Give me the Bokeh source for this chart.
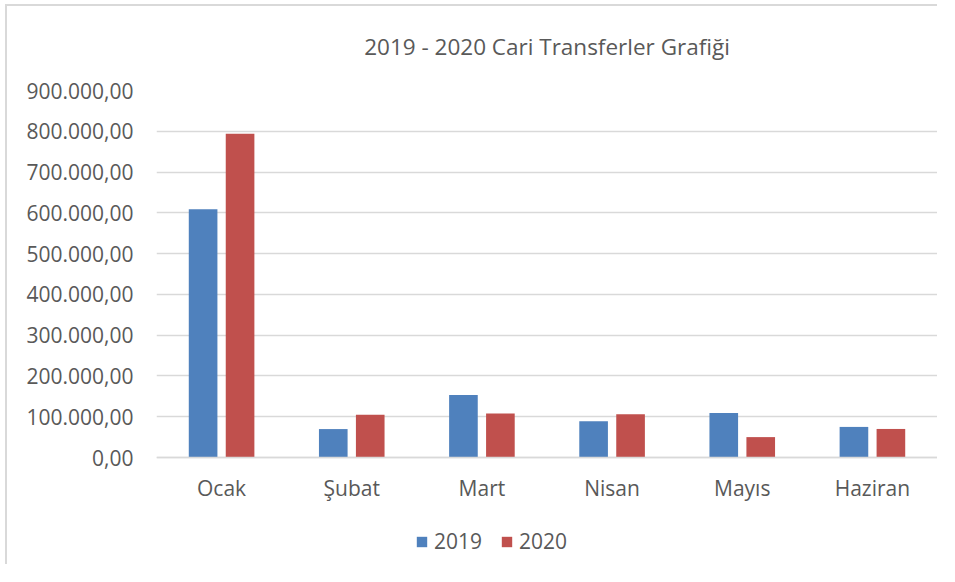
from bokeh.plotting import figure
from bokeh.models import (ColumnDataSource, FactorRange, Range1d, Legend, LegendItem,
                          FixedTicker)
from bokeh.transform import dodge
from bokeh.embed import file_html
from bokeh.resources import INLINE

months = ["Ocak", "Şubat", "Mart", "Nisan", "Mayıs", "Haziran"]
values_2019 = [609000, 69700, 153000, 88700, 109000, 75000]
values_2020 = [794000, 105000, 108000, 106000, 50000, 70000]
series_names = ["2019", "2020"]
tick_values = [0, 100000, 200000, 300000, 400000, 500000, 600000, 700000, 800000, 900000]
tick_labels = ["0,00", "100.000,00", "200.000,00", "300.000,00", "400.000,00",
               "500.000,00", "600.000,00", "700.000,00", "800.000,00", "900.000,00"]

FONT = "Open Sans"
TXT = "#595959"
GRID = "#d9d9d9"

W, H = 937, 564
TOP, LEFT, RIGHT = 90, 156, 0
PLOT_PX = 367              # pixel height of the 0..900k value area
FRAME_PX = H - TOP         # frame runs to the bottom so labels/legend sit inside it
y_max = 900000
y_min = -y_max * (FRAME_PX - PLOT_PX) / PLOT_PX

src = ColumnDataSource(dict(month=months, v2019=values_2019, v2020=values_2020))

p = figure(width=W, height=H, x_range=FactorRange(*months),
           y_range=Range1d(y_min, y_max),
           output_backend="svg", toolbar_location=None,
           min_border_left=LEFT, min_border_right=RIGHT, min_border_top=TOP, min_border_bottom=0)

# chart-area border (left and top edges visible in the reference)
p.border_fill_color = None
p.styles = {
    "background-image": "linear-gradient(#d9d9d9, #d9d9d9), linear-gradient(#d9d9d9, #d9d9d9)",
    "background-size": "2px 100%, 100% 2px",
    "background-position": "5px 4px, 5px 4px",
    "background-repeat": "no-repeat",
}

r1 = p.vbar(x=dodge("month", -0.142, range=p.x_range), top="v2019", width=0.22,
            source=src, fill_color="#4f81bd", line_color=None)
r2 = p.vbar(x=dodge("month", 0.142, range=p.x_range), top="v2020", width=0.22,
            source=src, fill_color="#c0504d", line_color=None)

p.title.text = "2019 - 2020 Cari Transferler Grafiği"
p.title.align = "center"
p.title.vertical_align = "top"
p.title.text_font = FONT
p.title.text_font_size = "22.5px"
p.title.text_font_style = "normal"
p.title.text_color = TXT
p.title.standoff = 54

p.outline_line_color = None
p.background_fill_color = "white"

p.xgrid.grid_line_color = None
p.ygrid.grid_line_color = GRID
p.ygrid.grid_line_width = 1.5

p.yaxis.ticker = FixedTicker(ticks=tick_values)
p.yaxis.major_label_overrides = {v: l for v, l in zip(tick_values, tick_labels)}
p.yaxis.axis_line_color = None
p.yaxis.major_tick_line_color = None
p.yaxis.minor_tick_line_color = None
p.yaxis.major_label_standoff = 17
p.yaxis.major_label_text_font = FONT
p.yaxis.major_label_text_font_size = "21px"
p.yaxis.major_label_text_color = TXT

p.xaxis.fixed_location = 0
p.xaxis.axis_line_color = GRID
p.xaxis.axis_line_width = 1.5
p.xaxis.major_tick_line_color = None
p.xaxis.minor_tick_line_color = None
p.xaxis.major_label_standoff = 10
p.xaxis.major_label_text_font = FONT
p.xaxis.major_label_text_font_size = "21px"
p.xaxis.major_label_text_color = TXT

legend = Legend(items=[LegendItem(label=series_names[0], renderers=[r1]),
                       LegendItem(label=series_names[1], renderers=[r2])],
                orientation="horizontal", location=(259, 9),
                glyph_width=13, glyph_height=13, label_standoff=6, spacing=18,
                label_text_font=FONT, label_text_font_size="21px", label_text_color=TXT,
                border_line_color=None, background_fill_alpha=0, padding=0, margin=0)
p.add_layout(legend)

open("out.html", "w").write(file_html(p, INLINE))
